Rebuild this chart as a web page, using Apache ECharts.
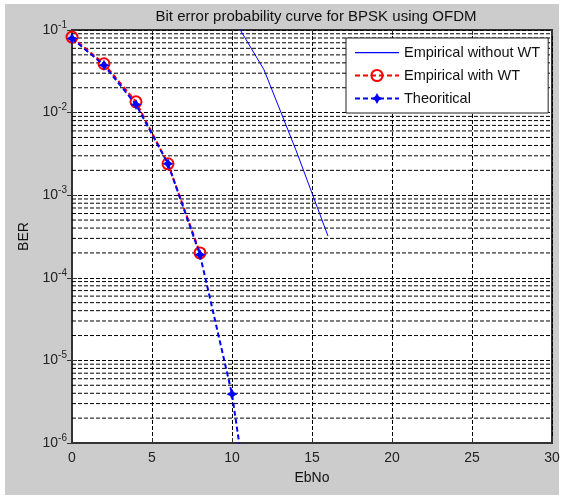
<!DOCTYPE html>
<html>
<head>
<meta charset="utf-8">
<script src="https://cdn.jsdelivr.net/npm/echarts@6/dist/echarts.min.js"></script>
<style>
  html, body { margin: 0; padding: 0; background: #fff; }
  #chart { width: 584px; height: 497px; }
</style>
</head>
<body>
<div id="chart"></div>
<script>
// EbNo values (dB) and BER readings
var ebnoTheory = [0, 2, 4, 6, 8, 10, 12];
var berTheory = [0.079, 0.0375, 0.0125, 0.0024, 0.00019, 0.0000039, 0.000000009];

var ebnoWithWT = [0, 2, 4, 6, 8];
var berWithWT = [0.082, 0.039, 0.0135, 0.0024, 0.0002];

var ebnoNoWT = [10, 12, 14, 16];
var berNoWT = [0.148, 0.033, 0.0035, 0.00032];

var legendNames = ['Empirical without WT', 'Empirical with WT', 'Theoritical'];

// minor log grid positions: 2..9 x 10^k, drawn as broken horizontal segments
var minorGrid = [];
for (var k = -6; k <= -2; k++) {
  for (var m = 2; m <= 9; m++) {
    var v = m * Math.pow(10, k);
    minorGrid.push([0, v], [30, v], [30, '-']);
  }
}

function pairs (xs, ys) {
  return xs.map(function (x, i) { return [x, ys[i]]; });
}

var FONT = 'Liberation Sans, Arial, sans-serif';
var gridDash = { type: [4, 2], color: '#000', width: 1 };

var chart = echarts.init(document.getElementById('chart'), null, { renderer: 'canvas' });
chart.setOption({
  animation: false,
  backgroundColor: '#fff',
  graphic: [{
    type: 'rect',
    shape: { x: 5, y: 4, width: 554, height: 491 },
    style: { fill: '#cccccc' },
    z: -10,
    silent: true
  }],
  title: {
    text: 'Bit error probability curve for BPSK using OFDM',
    left: 311,
    top: 4,
    textAlign: 'center',
    textStyle: { fontFamily: FONT, fontSize: 15, fontWeight: 'normal', color: '#111' }
  },
  grid: {
    left: 72, right: 32, top: 30, bottom: 54,
    show: true,
    backgroundColor: '#fff',
    borderColor: '#333',
    borderWidth: 2
  },
  legend: {
    data: [
      { name: legendNames[0], icon: 'path://M0,0 L0,0 M0,6.5 L44,6.5 L44,7.7 L0,7.7 Z M44,14 L44,14' },
      { name: legendNames[1] },
      { name: legendNames[2] }
    ],
    orient: 'vertical',
    left: 346,
    top: 38,
    padding: [7, 8, 7, 8],
    itemGap: 8,
    itemWidth: 44,
    itemHeight: 14,
    backgroundColor: '#fff',
    borderColor: '#222',
    borderWidth: 1,
    borderRadius: 0,
    textStyle: { fontFamily: FONT, fontSize: 14.5, color: '#111' }
  },
  xAxis: [{
    type: 'value',
    min: 0, max: 30, interval: 5,
    name: 'EbNo',
    nameLocation: 'middle',
    nameGap: 28,
    nameTextStyle: { fontFamily: FONT, fontSize: 14, color: '#111' },
    axisLine: { show: true, lineStyle: { color: '#333', width: 2 } },
    axisTick: { show: true, inside: true, length: 5, lineStyle: { color: '#333' } },
    axisLabel: { margin: 8, fontFamily: FONT, fontSize: 14, color: '#222' },
    splitLine: { show: true, lineStyle: gridDash }
  }, {
    type: 'value',
    position: 'top',
    min: 0, max: 30, interval: 5,
    axisLine: { show: false },
    axisTick: { show: true, inside: true, length: 5, lineStyle: { color: '#333' } },
    axisLabel: { show: false },
    splitLine: { show: false }
  }],
  yAxis: [{
    type: 'log',
    logBase: 10,
    min: 1e-6, max: 1e-1,
    name: 'BER',
    nameLocation: 'middle',
    nameGap: 37,
    nameTextStyle: { fontFamily: FONT, fontSize: 14, color: '#111' },
    axisLine: { show: true, lineStyle: { color: '#333', width: 2 } },
    axisTick: { show: true, inside: true, length: 5, lineStyle: { color: '#333' } },
    axisLabel: {
      margin: 5,
      formatter: function (v) {
        return '{b|10}{s|' + Math.round(Math.log10(v)) + '}';
      },
      rich: {
        b: { fontFamily: FONT, fontSize: 14, color: '#222', lineHeight: 20 },
        s: { fontFamily: FONT, fontSize: 10, color: '#222', lineHeight: 4, verticalAlign: 'top' }
      }
    },
    splitLine: { show: true, lineStyle: gridDash }
  }, {
    type: 'log',
    logBase: 10,
    min: 1e-6, max: 1e-1,
    position: 'right',
    axisLine: { show: false },
    axisTick: { show: true, inside: true, length: 5, lineStyle: { color: '#333' } },
    axisLabel: { show: false },
    splitLine: { show: false }
  }],
  series: [
    {
      name: 'minor grid',
      type: 'line',
      data: minorGrid,
      symbol: 'none',
      connectNulls: false,
      silent: true,
      z: 1,
      lineStyle: gridDash,
      emphasis: { disabled: true }
    },
    {
      name: legendNames[0],
      type: 'line',
      data: pairs(ebnoNoWT, berNoWT),
      symbol: 'none',
      lineStyle: { color: '#0000ff', width: 1 },
      itemStyle: { color: '#0000ff' },
      z: 3
    },
    {
      name: legendNames[1],
      type: 'line',
      data: pairs(ebnoWithWT, berWithWT),
      symbol: 'circle',
      symbolSize: 11,
      showAllSymbol: true,
      lineStyle: { color: '#ff0000', width: 2, type: [5, 3] },
      itemStyle: { color: 'rgba(255,255,255,0)', borderColor: '#ff0000', borderWidth: 2 },
      z: 4
    },
    {
      name: legendNames[2],
      type: 'line',
      data: pairs(ebnoTheory, berTheory),
      symbol: 'path://M0,-10 L3.5,-3.5 L10,0 L3.5,3.5 L0,10 L-3.5,3.5 L-10,0 L-3.5,-3.5 Z',
      symbolSize: 11,
      showAllSymbol: true,
      lineStyle: { color: '#0000ff', width: 2, type: [5, 3] },
      itemStyle: { color: '#0000ff' },
      z: 5
    }
  ]
});
</script>
</body>
</html>
